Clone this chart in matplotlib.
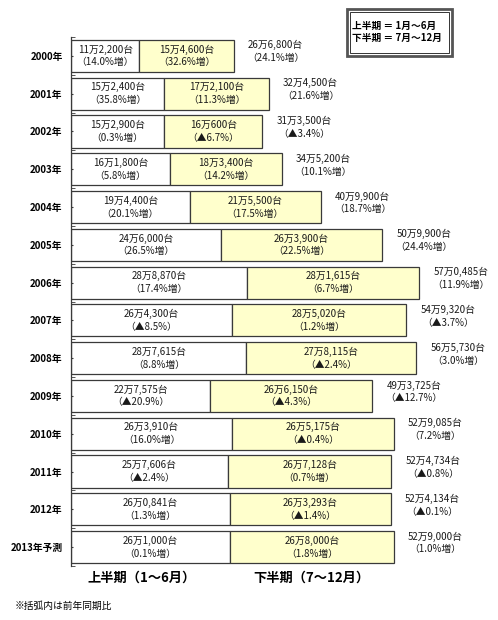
import matplotlib

matplotlib.use("Agg")
import matplotlib.pyplot as plt
from matplotlib.patches import Rectangle

plt.rcParams["font.family"] = ["Noto Sans CJK JP", "DejaVu Sans"]

years = ["2000年", "2001年", "2002年", "2003年", "2004年", "2005年", "2006年",
         "2007年", "2008年", "2009年", "2010年", "2011年", "2012年", "2013年予測"]
first_half = [112200, 152400, 152900, 161800, 194400, 246000, 288870,
              264300, 287615, 227575, 263910, 257606, 260841, 261000]
second_half = [154600, 172100, 160600, 183400, 215500, 263900, 281615,
               285020, 278115, 266150, 265175, 267128, 263293, 268000]
totals = [266800, 324500, 313500, 345200, 409900, 509900, 570485,
          549320, 565730, 493725, 529085, 524734, 524134, 529000]
first_chg = ["14.0%増", "35.8%増", "0.3%増", "5.8%増", "20.1%増", "26.5%増", "17.4%増",
             "▲8.5%", "8.8%増", "▲20.9%", "16.0%増", "▲2.4%", "1.3%増", "0.1%増"]
second_chg = ["32.6%増", "11.3%増", "▲6.7%", "14.2%増", "17.5%増", "22.5%増", "6.7%増",
              "1.2%増", "▲2.4%", "▲4.3%", "▲0.4%", "0.7%増", "▲1.4%", "1.8%増"]
total_chg = ["24.1%増", "21.6%増", "▲3.4%", "10.1%増", "18.7%増", "24.4%増", "11.9%増",
             "▲3.7%", "3.0%増", "▲12.7%", "7.2%増", "▲0.8%", "▲0.1%", "1.0%増"]


def fmt_units(v):
    """Format a count like 26万6,800台."""
    man, rest = divmod(v, 10000)
    if rest >= 1000:
        s = f"{rest // 1000},{rest % 1000:03d}"
    elif rest % 100 == 0:
        s = str(rest)
    else:
        s = f"0,{rest:03d}"
    return f"{man}万{s}台"


W, H = 498, 620
fig = plt.figure(figsize=(W / 100, H / 100), dpi=100)
ax = fig.add_axes([71 / W, 1 - 566 / H, 427 / W, 529 / H])

y = list(range(len(years)))
edge = "#3a3a3a"
ax.barh(y, first_half, height=0.85, color="white", edgecolor=edge, linewidth=0.9)
ax.barh(y, second_half, left=first_half, height=0.85, color="#ffffcc",
        edgecolor=edge, linewidth=0.9)

txt = dict(ha="center", va="center", fontsize=7, linespacing=1.35, color="#1a1a1a")
for i in y:
    a, b, t = first_half[i], second_half[i], totals[i]
    ax.text(a / 2, i, f"{fmt_units(a)}\n（{first_chg[i]}）", **txt)
    ax.text(a + b / 2, i, f"{fmt_units(b)}\n（{second_chg[i]}）", **txt)
    ax.annotate(f"{fmt_units(t)}\n（{total_chg[i]}）", (a + b, i), xytext=(30, 3),
                textcoords="offset points", **txt)

ax.set_xlim(0, 700000)
ax.set_ylim(len(years) - 0.5, -0.5)
ax.set_yticks(y)
ax.set_yticklabels(years, fontsize=7, fontweight="bold")
ax.set_yticks([k - 0.5 for k in range(len(years) + 1)], minor=True)
ax.tick_params(axis="y", which="major", direction="in", length=1.5, pad=6, color=edge)
ax.tick_params(axis="y", which="minor", direction="in", length=3, color=edge)
ax.set_xticks([])
for side in ["top", "right", "bottom"]:
    ax.spines[side].set_visible(False)
ax.spines["left"].set_color(edge)
ax.spines["left"].set_linewidth(0.9)

# bottom period labels
fig.text(142 / W, 1 - 578 / H, "上半期（1〜6月）", ha="center", va="center",
         fontsize=9.5, fontweight="bold")
fig.text(311 / W, 1 - 578 / H, "下半期（7〜12月）", ha="center", va="center",
         fontsize=9.5, fontweight="bold")
fig.text(15 / W, 1 - 606 / H, "※括弧内は前年同期比", ha="left", va="center", fontsize=7)

# legend box with double border
fig.patches.append(Rectangle((347 / W, 1 - 56 / H), 105 / W, 47 / H,
                             transform=fig.transFigure, fill=False,
                             edgecolor="#555", linewidth=2))
fig.patches.append(Rectangle((350 / W, 1 - 53 / H), 99 / W, 41 / H,
                             transform=fig.transFigure, fill=False,
                             edgecolor="#333", linewidth=0.7))
fig.text(352 / W, 1 - 32 / H, "上半期 ＝ 1月〜6月\n下半期 ＝ 7月〜12月", ha="left",
         va="center", fontsize=7, fontweight="bold", linespacing=1.2)

fig.savefig("out.png", dpi=100)
